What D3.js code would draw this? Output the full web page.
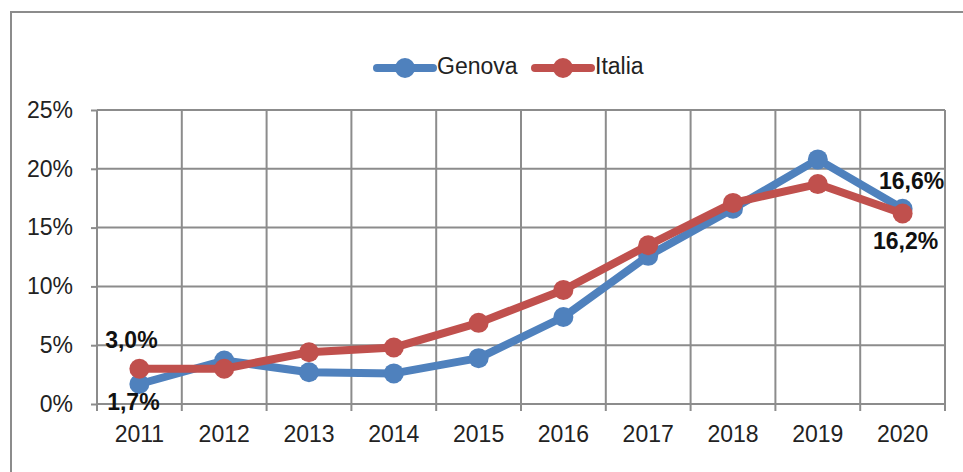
<!DOCTYPE html>
<html><head><meta charset="utf-8">
<script src="https://cdn.jsdelivr.net/npm/d3@7"></script>
<style>body{margin:0;background:#fff}svg{display:block}text{font-family:"Liberation Sans",Arial,sans-serif}</style>
</head><body>
<svg id="c" width="963" height="472"></svg>
<script>
const years = ["2011","2012","2013","2014","2015","2016","2017","2018","2019","2020"];
const genova = [1.7,3.7,2.7,2.6,3.9,7.4,12.6,16.6,20.8,16.6];
const italia = [3.0,3.0,4.4,4.8,6.9,9.7,13.5,17.1,18.7,16.2];
const yTicks = [0,5,10,15,20,25];
const seriesNames = ["Genova","Italia"];
const colors = ["#4F81BD","#C0504D"];

const svg = d3.select("#c");
const m = {left:97,right:945,top:110,bottom:404};
const x = d3.scaleBand().domain(years).range([m.left,m.right]);
const y = d3.scaleLinear().domain([0,25]).range([m.bottom,m.top]);
const grid = "#8c8c8c";

// outer border
svg.append("rect").attr("x",11).attr("y",12).attr("width",970).attr("height",480)
  .attr("fill","none").attr("stroke",grid).attr("stroke-width",2);

// horizontal grid + y axis
const ya = svg.append("g").attr("transform",`translate(${m.left},0)`)
  .call(d3.axisLeft(y).tickValues(yTicks).tickSize(6).tickFormat(d=>d+"%"));
ya.select(".domain").remove();
ya.selectAll("line").attr("stroke",grid).attr("stroke-width",2);
ya.selectAll("text").attr("font-size",23).attr("fill","#222").attr("x",-24);
svg.append("g").selectAll("line").data(yTicks).join("line")
  .attr("x1",m.left).attr("x2",m.right).attr("y1",d=>y(d)).attr("y2",d=>y(d))
  .attr("stroke",grid).attr("stroke-width",2);

// vertical grid
const bounds = years.map(d=>x(d)).concat([m.right]);
svg.append("g").selectAll("line").data(bounds).join("line")
  .attr("x1",d=>d).attr("x2",d=>d).attr("y1",m.top).attr("y2",m.bottom+7)
  .attr("stroke",grid).attr("stroke-width",2);

// x axis labels
const xa = svg.append("g").attr("transform",`translate(0,${m.bottom})`)
  .call(d3.axisBottom(x).tickSize(0).tickPadding(22));
xa.select(".domain").remove();
xa.selectAll("text").attr("font-size",23).attr("fill","#222");

const cx = d => x(d)+x.bandwidth()/2;
const line = d3.line().x((d,i)=>cx(years[i])).y(d=>y(d));
[genova,italia].forEach((s,k)=>{
  svg.append("path").datum(s).attr("d",line).attr("fill","none")
    .attr("stroke",colors[k]).attr("stroke-width",8).attr("stroke-linejoin","round");
  svg.append("g").selectAll("circle").data(s).join("circle")
    .attr("cx",(d,i)=>cx(years[i])).attr("cy",d=>y(d)).attr("r",10).attr("fill",colors[k]);
});

// data labels
const fmt = v => v.toFixed(1).replace(".",",")+"%";
const lab = (txt,xx,yy)=>svg.append("text").attr("x",xx).attr("y",yy).attr("font-size",23)
  .attr("font-weight","bold").attr("fill","#111").attr("text-anchor","middle").attr("dominant-baseline","middle").text(txt);
lab(fmt(italia[0]), cx(years[0])-8, y(italia[0])-27);
lab(fmt(genova[0]), cx(years[0])-6, y(genova[0])+20);
lab(fmt(genova[9]), cx(years[9])+9, y(genova[9])-26);
lab(fmt(italia[9]), cx(years[9])+3, y(italia[9])+29);

// legend
const lg = svg.append("g");
const lx = [377,535];
seriesNames.forEach((n,k)=>{
  lg.append("line").attr("x1",lx[k]).attr("x2",lx[k]+56).attr("y1",68).attr("y2",68)
    .attr("stroke",colors[k]).attr("stroke-width",8).attr("stroke-linecap","round");
  lg.append("circle").attr("cx",lx[k]+28).attr("cy",68).attr("r",10).attr("fill",colors[k]);
  lg.append("text").attr("x",lx[k]+60).attr("y",68).attr("dominant-baseline","middle")
    .attr("font-size",23).attr("fill","#222").text(n);
});
</script>
</body></html>
